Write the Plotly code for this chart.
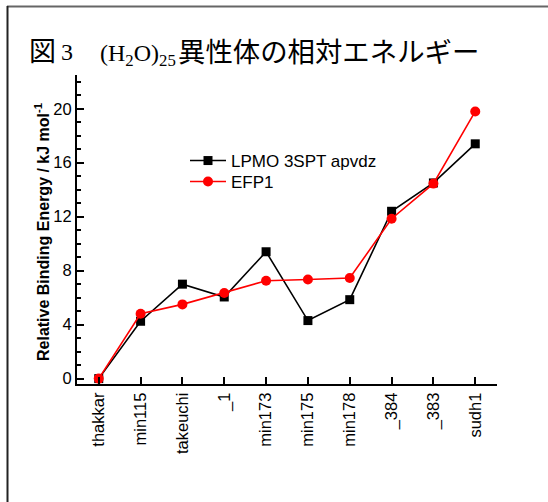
import plotly.graph_objects as go

# Isomer labels and relative binding energies (kJ/mol)
isomers = ["thakkar", "min115", "takeuchi", "_1", "min173", "min175",
           "min178", "_384", "_383", "sudh1"]
lpmo_3spt = [0.0, 4.25, 7.0, 6.05, 9.4, 4.3, 5.85, 12.4, 14.5, 17.4]
efp1 = [0.0, 4.8, 5.5, 6.35, 7.25, 7.35, 7.45, 11.85, 14.45, 19.8]
ytick_vals = [0, 4, 8, 12, 16, 20]

x_idx = list(range(len(isomers)))

fig = go.Figure()
fig.add_trace(go.Scatter(
    x=x_idx, y=lpmo_3spt, mode="lines+markers", name="LPMO 3SPT apvdz",
    line=dict(color="black", width=1.6),
    marker=dict(symbol="square", size=9, color="black"),
    legend="legend",
))
fig.add_trace(go.Scatter(
    x=x_idx, y=efp1, mode="lines+markers", name="EFP1",
    line=dict(color="#ff0000", width=1.6),
    marker=dict(symbol="circle", size=10, color="#ff0000"),
    legend="legend2",
))

sans = "Liberation Sans, Arial"
serif = "Liberation Serif, Times New Roman"
cjk = "Noto Sans CJK JP"
axis_font = dict(family=sans, size=16.5, color="black")

fig.update_xaxes(
    range=[-0.52, 9.52], tickmode="array", tickvals=x_idx, ticktext=isomers,
    tickangle=-90, ticks="inside", ticklen=7, tickwidth=2, tickcolor="black",
    showline=True, linecolor="black", linewidth=2, showgrid=False,
    zeroline=False, tickfont=axis_font,
)
fig.update_yaxes(
    range=[-0.4, 22.5], tickmode="array", tickvals=ytick_vals,
    ticks="inside", ticklen=7, tickwidth=2, tickcolor="black",
    minor=dict(ticks="inside", dtick=1, ticklen=4, tickwidth=1.5,
               tickcolor="black", showgrid=False),
    showline=True, linecolor="black", linewidth=2, showgrid=False,
    zeroline=False, tickfont=axis_font,
)


def px_x(px):
    return (px - 77) / 420


def px_y(py):
    return (384 - py) / 309


legend_style = dict(xanchor="left", yanchor="middle", bgcolor="rgba(0,0,0,0)",
                    font=dict(family=sans, size=17, color="black"),
                    itemwidth=36)

title_y = px_y(50)
annotations = [
    dict(text="図", x=px_x(27), y=title_y, font=dict(family=cjk, size=27)),
    dict(text="3", x=px_x(59), y=px_y(52), font=dict(family=serif, size=24)),
    dict(text="(H<sub>2</sub>O)<sub>25</sub>", x=px_x(98), y=px_y(55),
         font=dict(family=serif, size=24)),
    dict(text="異性体の相対エネルギー", x=px_x(176), y=title_y,
         font=dict(family=cjk, size=27.4)),
]
for a in annotations:
    a.update(xref="paper", yref="paper", xanchor="left", yanchor="middle",
             showarrow=False)
    a["font"]["color"] = "black"

annotations.append(dict(
    text="<b>Relative Binding Energy / kJ mol<sup>-1</sup></b>",
    xref="paper", yref="paper", x=px_x(42), y=px_y(232),
    xanchor="center", yanchor="middle", textangle=-90, showarrow=False,
    font=dict(family=sans, size=16, color="black"),
))

fig.update_layout(
    width=548, height=502,
    margin=dict(l=77, r=51, t=75, b=118),
    plot_bgcolor="white", paper_bgcolor="white",
    showlegend=True,
    legend=dict(x=px_x(185), y=px_y(161), **legend_style),
    legend2=dict(x=px_x(185), y=px_y(182), **legend_style),
    annotations=annotations,
    shapes=[
        dict(type="line", xref="paper", yref="paper",
             x0=px_x(7), x1=px_x(560), y0=px_y(6.5), y1=px_y(6.5),
             line=dict(color="#666666", width=2)),
        dict(type="line", xref="paper", yref="paper",
             x0=px_x(7.5), x1=px_x(7.5), y0=px_y(6), y1=px_y(520),
             line=dict(color="#222222", width=2)),
    ],
)

fig.write_html("out.html")
